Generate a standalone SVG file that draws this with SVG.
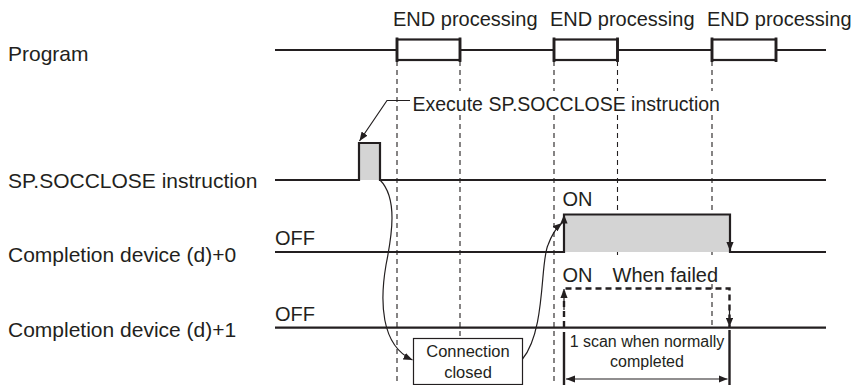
<svg xmlns="http://www.w3.org/2000/svg" width="853" height="385" viewBox="0 0 853 385">
<defs>
<style>
text{font-family:"Liberation Sans",Arial,sans-serif;fill:#231f20}
.lbl{font-size:21px}
.t20{font-size:20px}
.sm{font-size:16px}
.ln{stroke:#231f20;stroke-width:2.2;fill:none}
.dash{stroke:#231f20;stroke-width:1.1;stroke-dasharray:5 4;fill:none}
.thin{stroke:#231f20;stroke-width:1.2;fill:none}
.gray{fill:#d4d4d4}
.bg{fill:#ffffff}
</style>
<marker id="ah" viewBox="0 0 10 8" refX="10" refY="4" markerWidth="9" markerHeight="7.2" markerUnits="userSpaceOnUse" orient="auto">
<path d="M0,0 L10,4 L0,8 z" fill="#231f20"/>
</marker>
<marker id="ahs" viewBox="0 0 10 8" refX="0" refY="4" markerWidth="9" markerHeight="7.2" markerUnits="userSpaceOnUse" orient="auto">
<path d="M10,0 L0,4 L10,8 z" fill="#231f20"/>
</marker>
</defs>
<rect width="853" height="385" fill="#ffffff"/>

<g id="guides">
<line class="dash" x1="397" y1="61" x2="397" y2="385"/>
<line class="dash" x1="460" y1="61" x2="460" y2="385"/>
<line class="dash" x1="554" y1="61" x2="554" y2="385"/>
<line class="dash" x1="617.5" y1="61" x2="617.5" y2="256"/>
<line class="dash" x1="712" y1="61" x2="712" y2="258"/>
<line class="dash" x1="712" y1="284" x2="712" y2="325"/>
</g>

<g id="program">
<text class="lbl" x="8" y="60.5">Program</text>
<line class="ln" x1="275" y1="50" x2="826" y2="50"/>
<g id="end1">
<rect x="397" y="39.5" width="63" height="20.5" fill="#fff" stroke="#231f20" stroke-width="2.2"/>
<line x1="397" y1="37.5" x2="397" y2="62" stroke="#231f20" stroke-width="2.8"/>
<line x1="460" y1="37.5" x2="460" y2="62" stroke="#231f20" stroke-width="2.8"/>
<text class="t20" x="393" y="26">END processing</text>
</g>
<g id="end2">
<rect x="554" y="39.5" width="63.5" height="20.5" fill="#fff" stroke="#231f20" stroke-width="2.2"/>
<line x1="554" y1="37.5" x2="554" y2="62" stroke="#231f20" stroke-width="2.8"/>
<line x1="617.5" y1="37.5" x2="617.5" y2="62" stroke="#231f20" stroke-width="2.8"/>
<text class="t20" x="550" y="26">END processing</text>
</g>
<g id="end3">
<rect x="712" y="39.5" width="64" height="20.5" fill="#fff" stroke="#231f20" stroke-width="2.2"/>
<line x1="712" y1="37.5" x2="712" y2="62" stroke="#231f20" stroke-width="2.8"/>
<line x1="776" y1="37.5" x2="776" y2="62" stroke="#231f20" stroke-width="2.8"/>
<text class="t20" x="707" y="26">END processing</text>
</g>
</g>

<g id="instruction">
<text class="lbl" x="8" y="187.5">SP.SOCCLOSE instruction</text>
<rect class="gray" x="359" y="143" width="21" height="37"/>
<path class="ln" d="M275,180 H359 V143 H380 V180 H826"/>
</g>

<g id="execute-label">
<rect class="bg" x="410.5" y="91" width="314" height="24"/>
<text style="font-size:19.5px" x="412.5" y="110.5">Execute SP.SOCCLOSE instruction</text>
</g>

<g id="device0">
<text class="lbl" x="8" y="261.5">Completion device (d)+0</text>
<text class="t20" x="275" y="245">OFF</text>
<text class="t20" x="562.5" y="206">ON</text>
<rect class="gray" x="564" y="214.5" width="166" height="37.5"/>
<path class="ln" d="M275,252 H564 V214.5 H730 V252 H826"/>
</g>

<g id="device1">
<text class="lbl" x="8" y="337">Completion device (d)+1</text>
<text class="t20" x="275" y="320.5">OFF</text>
<text class="t20" x="562.5" y="281.5">ON</text>
<text class="t20" x="612.5" y="281.5">When failed</text>
<line class="ln" x1="275" y1="327.7" x2="826" y2="327.7"/>
<path d="M564,327 V288.5 H729.5 V327" fill="none" stroke="#231f20" stroke-width="2.4" stroke-dasharray="6 4"/>
</g>

<g id="scan">
<rect class="bg" x="565.5" y="330" width="163" height="55"/>
<line x1="564" y1="332" x2="564" y2="385" stroke="#231f20" stroke-width="2.4"/>
<line x1="729.5" y1="330" x2="729.5" y2="385" stroke="#231f20" stroke-width="2.4"/>
<text class="sm" x="647" y="346.5" text-anchor="middle">1 scan when normally</text>
<text class="sm" x="647" y="366.5" text-anchor="middle">completed</text>
</g>

<g id="connection-closed">
<rect x="413.5" y="338.5" width="109" height="46" fill="#fff" stroke="#231f20" stroke-width="1.2"/>
<text class="sm" style="font-size:16.5px" x="468" y="356.5" text-anchor="middle">Connection</text>
<text class="sm" style="font-size:16.5px" x="468" y="378" text-anchor="middle">closed</text>
</g>

<g id="connectors">
<path class="thin" d="M410,100.5 H387 L359.5,141" marker-end="url(#ah)"/>
<path class="thin" d="M380,180 C398,198 392,235 386,265 C380,300 380,345 412.5,360" marker-end="url(#ah)"/>
<path class="thin" d="M522.5,359 C546,330 540,262 548,245 C552,234 556,228 562,223" marker-end="url(#ah)"/>
<path class="thin" d="M564,240 V214.5" marker-end="url(#ah)" stroke-width="0"/>
<path class="thin" d="M730,230 V251" marker-end="url(#ah)" stroke-width="0"/>
<path class="thin" d="M564,310 V289" marker-end="url(#ah)" stroke-width="0"/>
<path class="thin" d="M729.5,310 V327" marker-end="url(#ah)" stroke-width="0"/>
<line class="thin" x1="566" y1="379" x2="727.5" y2="379" stroke-width="2" marker-start="url(#ahs)" marker-end="url(#ah)"/>
</g>
</svg>
